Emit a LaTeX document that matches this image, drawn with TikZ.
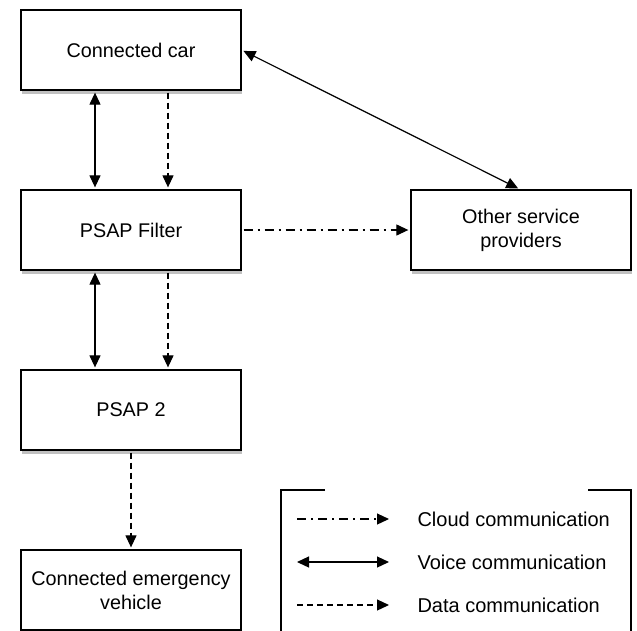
\documentclass[tikz,border=0pt]{standalone}
\usepackage{fontspec}
\setmainfont{Liberation Sans}
\usetikzlibrary{arrows.meta,shadows}

\begin{document}
\begin{tikzpicture}[x=1pt,y=-1pt,
    box/.style={draw, line width=1.3pt, fill=white, minimum width=220pt, minimum height=80pt,
        align=center, font=\fontsize{19.8}{24}\selectfont,
        drop shadow={shadow xshift=1pt, shadow yshift=-4pt, opacity=0.35, fill=black!70}},
    conn/.style={line width=1.2pt, shorten >=2pt, shorten <=2pt},
    tip/.tip={Triangle[length=12pt,width=11pt]},
    voice/.style={conn, tip-tip},
    data/.style={conn, -tip, dash pattern=on 6pt off 4pt},
    cloud/.style={conn, -tip, dash pattern=on 9pt off 5pt on 2pt off 5pt},
    legtext/.style={anchor=west, font=\fontsize{20}{24}\selectfont}]
    \useasboundingbox (0,0) rectangle (637,630);
    \clip (0,0) rectangle (637,630);

    % Boxes
    \node[box] (car) at (131,50) {Connected car};
    \node[box] (filter) at (131,230) {PSAP Filter};
    \node[box] (psap) at (131,410) {PSAP 2};
    \node[box] (vehicle) at (131,590) {Connected emergency\\vehicle};
    \node[box] (other) at (521,230) {Other service\\providers};

    % Voice and data links
    \draw[voice] ([xshift=-36pt]car.south) -- ([xshift=-36pt]filter.north);
    \draw[data] ([xshift=37pt]car.south) -- ([xshift=37pt]filter.north);
    \draw[voice] ([xshift=-36pt]filter.south) -- ([xshift=-36pt]psap.north);
    \draw[data] ([xshift=37pt]filter.south) -- ([xshift=37pt]psap.north);
    \draw[data] (psap.south) -- (vehicle.north);

    % Cloud links
    \draw[voice] (car.east) -- ([xshift=-1pt]other.north);
    \draw[cloud] (filter.east) -- (other.west);

    % Legend frame
    \draw[line width=1.2pt] (325,490) -- (281,490) -- (281,640);
    \draw[line width=1.2pt] (588,490) -- (631,490) -- (631,640);

    % Legend entries
    \foreach \name/\y/\kind/\txt in {cl/519/cloud/Cloud communication,
        vo/562/voice/Voice communication, da/605/data/Data communication} {
        \coordinate (\name a) at (297,\y);
        \coordinate (\name b) at (389,\y);
        \draw[\kind, shorten <=0pt, shorten >=0pt] (\name a) -- (\name b);
        \node[legtext] (\name t) at (414,\y) {\txt};
    }
\end{tikzpicture}
\end{document}
